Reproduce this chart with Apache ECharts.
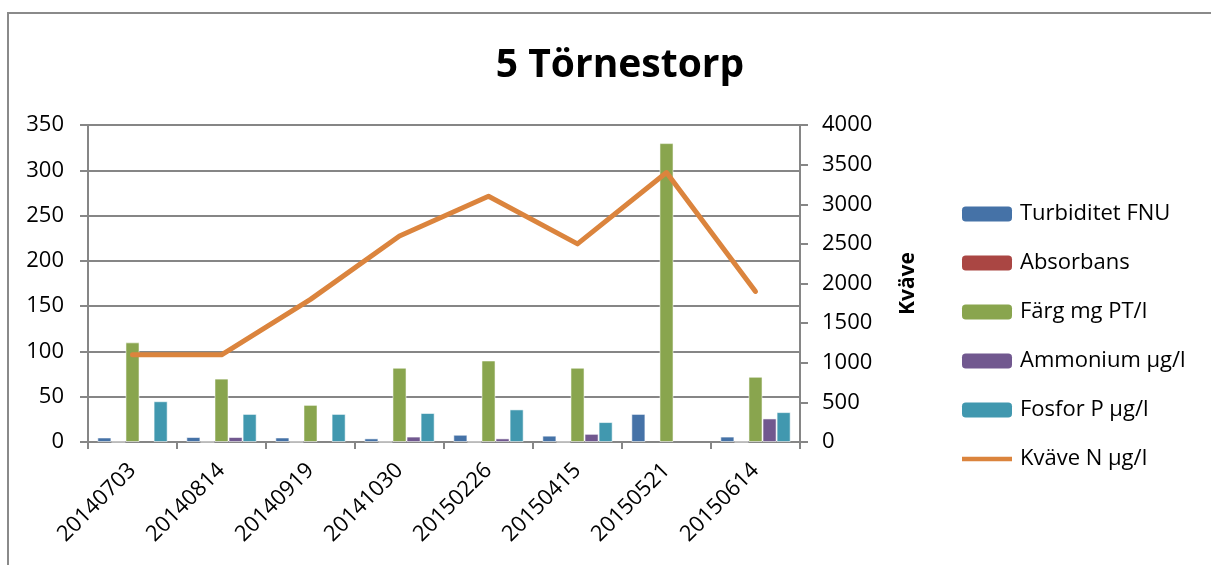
<!DOCTYPE html>
<html>
<head>
<meta charset="utf-8">
<script src="https://cdn.jsdelivr.net/npm/echarts@6/dist/echarts.min.js"></script>
<style>
html,body{margin:0;padding:0;background:#fff;}
#chart_main{width:1211px;height:565px;}
</style>
</head>
<body>
<div id="chart_main"></div>
<script>
var myChart = echarts.init(document.getElementById('chart_main'));

// provtagningsdatum
var dates = ['20140703', '20140814', '20140919', '20141030', '20150226', '20150415', '20150521', '20150614'];
// staplar, vänster axel
var turbiditet = [5, 5.5, 5, 4, 8, 7, 31, 6];
var absorbans = [0.1, 0.1, 0.1, 0.1, 0.1, 0.1, null, 0.1];
var farg = [110, 70, 41, 82, 90, 82, 330, 72];
var ammonium = [null, 5.5, null, 6, 4, 9, null, 26];
var fosfor = [45, 31, 31, 32, 36, 22, null, 33];
// linje, höger axel
var kvave = [1100, 1100, 1800, 2600, 3100, 2500, 3400, 1900];

var leftTicks = [0, 350, 50];
var rightTicks = [0, 4000, 500];

var fontName = 'Open Sans';
var axisGray = '#868686';

function barSerie(name, color, values) {
	return {
		name: name,
		type: 'bar',
		yAxisIndex: 0,
		barGap: '0%',
		barCategoryGap: '21%',
		itemStyle: {
			color: color,
			borderColor: 'rgba(255,255,255,0.55)',
			borderWidth: 1
		},
		data: values
	};
}

var option = {
	backgroundColor: '#fff',
	animation: false,
	title: {
		text: '5 Törnestorp',
		left: 615,
		top: 41,
		textAlign: 'center',
		textStyle: {
			fontFamily: fontName,
			fontWeight: 'bold',
			fontSize: 39,
			color: '#000'
		}
	},
	graphic: [{
		type: 'rect',
		shape: { x: 8, y: 13, width: 1300, height: 700 },
		style: { fill: 'none', stroke: '#8a8a8a', lineWidth: 2 },
		silent: true
	}],
	legend: {
		orient: 'vertical',
		left: 957,
		top: 198,
		itemWidth: 50,
		itemHeight: 15,
		itemGap: 27,
		itemStyle: { borderWidth: 0 },
		textStyle: {
			fontFamily: fontName,
			fontSize: 22,
			color: '#000',
			padding: [0, 0, 0, 3]
		},
		data: [
			'Turbiditet FNU', 'Absorbans', 'Färg mg PT/l', 'Ammonium µg/l', 'Fosfor P µg/l',
			{ name: 'Kväve N µg/l', icon: 'path://M0,0 L54,0 L54,5 L0,5 Z' }
		]
	},
	grid: {
		left: 88,
		right: 411,
		top: 125,
		bottom: 123
	},
	xAxis: {
		type: 'category',
		data: dates,
		boundaryGap: true,
		axisLine: { lineStyle: { color: axisGray, width: 2 } },
		axisTick: { show: true, length: 7, lineStyle: { color: axisGray, width: 2 } },
		axisLabel: {
			rotate: 45,
			margin: 25,
			interval: 0,
			fontFamily: fontName,
			fontSize: 22,
			color: '#000'
		}
	},
	yAxis: [{
		type: 'value',
		min: leftTicks[0],
		max: leftTicks[1],
		interval: leftTicks[2],
		axisLine: { show: true, lineStyle: { color: axisGray, width: 2 } },
		axisTick: { show: true, length: 8, lineStyle: { color: axisGray, width: 2 } },
		splitLine: { show: true, lineStyle: { color: axisGray, width: 2 } },
		axisLabel: {
			margin: 24,
			fontFamily: fontName,
			fontSize: 22,
			color: '#000'
		}
	}, {
		type: 'value',
		position: 'right',
		min: rightTicks[0],
		max: rightTicks[1],
		interval: rightTicks[2],
		name: 'Kväve',
		nameLocation: 'middle',
		nameRotate: 90,
		nameGap: 98,
		nameTextStyle: {
			fontFamily: fontName,
			fontWeight: 'bold',
			fontSize: 21,
			color: '#000'
		},
		axisLine: { show: true, lineStyle: { color: axisGray, width: 2 } },
		axisTick: { show: true, length: 8, lineStyle: { color: axisGray, width: 2 } },
		splitLine: { show: false },
		axisLabel: {
			margin: 22,
			fontFamily: fontName,
			fontSize: 22,
			color: '#000',
			formatter: function(v) {
				return String(v);
			}
		}
	}],
	series: [
		barSerie('Turbiditet FNU', '#4572A7', turbiditet),
		barSerie('Absorbans', '#AA4643', absorbans),
		barSerie('Färg mg PT/l', '#89A54E', farg),
		barSerie('Ammonium µg/l', '#71588F', ammonium),
		barSerie('Fosfor P µg/l', '#4198AF', fosfor),
		{
			name: 'Kväve N µg/l',
			type: 'line',
			yAxisIndex: 1,
			symbol: 'none',
			showSymbol: false,
			lineStyle: { color: '#DB843D', width: 5, cap: 'round', join: 'round' },
			itemStyle: { color: '#DB843D' },
			data: kvave
		}
	]
};

myChart.setOption(option);
</script>
</body>
</html>
